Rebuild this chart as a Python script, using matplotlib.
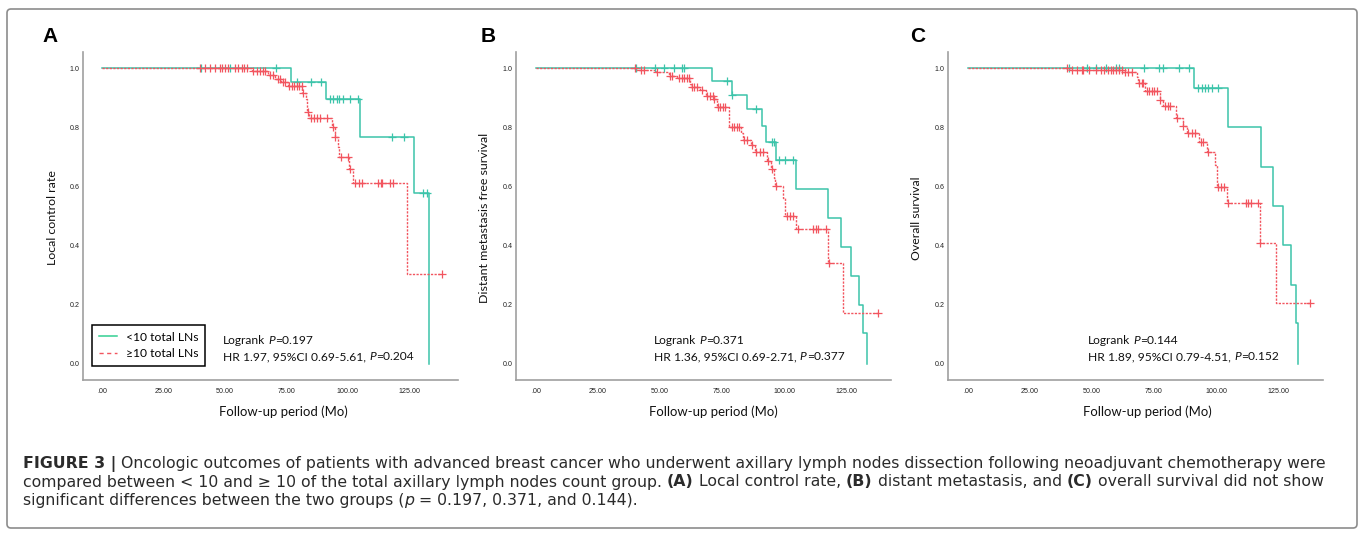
import numpy as np
import matplotlib
matplotlib.use("Agg")
import matplotlib.pyplot as plt
from matplotlib.lines import Line2D
from matplotlib.patches import FancyBboxPatch
from matplotlib.transforms import IdentityTransform
from matplotlib import font_manager

# ---------------- data ----------------
# Panel A : local control rate
a_lo_event_t = [77.0, 91.2, 105.0, 127.0, 133.3]
a_lo_event_s = [0.955, 0.895, 0.769, 0.577, 0.0]
a_lo_cens = [40.4, 52.0, 71.0, 79.3, 85.1, 89.1, 92.8, 94.2, 95.6, 96.6, 98.0,
             101.0, 104.1, 118.2, 122.9, 130.5, 132.2]
a_hi_event_t = [61.0, 67.7, 70.4, 72.8, 75.6, 81.6, 83.0, 83.6, 84.4, 93.8, 94.8,
                96.2, 96.6, 100.7, 102.1, 124.0]
a_hi_event_s = [0.993, 0.978, 0.963, 0.953, 0.941, 0.918, 0.898, 0.854, 0.833, 0.803,
                0.769, 0.735, 0.699, 0.658, 0.613, 0.305]
a_hi_cens = [39.8, 41.8, 43.8, 45.9, 47.9, 48.7, 50.1, 51.4, 54.2, 55.5, 56.9, 57.8,
             58.9, 61.6, 63.0, 64.3, 65.4, 66.4, 68.4, 69.8, 71.5, 72.5, 73.6, 74.5,
             76.3, 77.2, 78.2, 79.3, 80.2, 81.3, 82.0, 84.0, 85.3, 86.4, 87.7, 88.8,
             91.5, 94.0, 95.0, 97.2, 100.3, 101.0, 103.2, 104.6, 106.0, 112.3, 113.4,
             114.1, 117.3, 118.4, 138.3]

# Panel B : distant metastasis free survival
b_lo_event_t = [70.8, 78.9, 84.9, 91.3, 92.6, 96.9, 104.8, 117.9, 122.9, 126.9,
                130.1, 132.0, 133.3]
b_lo_event_s = [0.959, 0.910, 0.862, 0.806, 0.752, 0.690, 0.592, 0.492, 0.394,
                0.297, 0.198, 0.102, 0.0]
b_lo_cens = [40.3, 48.0, 51.6, 55.6, 58.9, 59.7, 76.9, 79.2, 88.9, 95.0, 95.9,
             97.9, 100.6, 103.5]
b_hi_event_t = [40.5, 48.5, 53.5, 57.0, 62.0, 62.5, 66.3, 68.5, 71.6, 72.8, 77.8,
                82.5, 83.5, 86.8, 88.3, 93.2, 94.8, 96.0, 96.5, 99.7, 100.3, 104.8,
                117.9, 123.7]
b_hi_event_s = [0.994, 0.988, 0.976, 0.967, 0.948, 0.936, 0.927, 0.908, 0.897, 0.871,
                0.800, 0.780, 0.758, 0.739, 0.716, 0.686, 0.661, 0.630, 0.602, 0.560,
                0.501, 0.456, 0.340, 0.172]
b_hi_cens = [40.0, 42.2, 43.5, 48.9, 54.0, 54.7, 57.8, 58.7, 59.8, 60.8, 61.7, 62.8,
             63.7, 65.0, 66.8, 69.1, 70.2, 71.3, 71.9, 73.3, 74.2, 75.3, 76.2, 78.9,
             79.8, 80.9, 81.9, 83.9, 85.0, 87.2, 88.9, 90.3, 91.7, 93.7, 95.0, 96.8,
             101.1, 102.4, 103.8, 105.5, 111.8, 112.9, 113.8, 116.9, 118.0, 138.0]

# Panel C : overall survival
c_lo_event_t = [91.1, 105.0, 118.0, 122.9, 126.9, 130.1, 132.1, 133.2]
c_lo_event_s = [0.935, 0.803, 0.667, 0.534, 0.402, 0.266, 0.136, 0.0]
c_lo_cens = [40.8, 47.9, 51.6, 55.6, 59.7, 61.0, 71.1, 77.0, 78.8, 85.1, 89.1,
             92.9, 94.2, 95.6, 96.9, 98.3, 100.9]
c_hi_event_t = [40.8, 62.5, 68.0, 68.5, 71.4, 77.4, 78.8, 83.7, 84.0, 86.5, 88.4,
                93.3, 96.2, 99.6, 100.3, 104.6, 117.7, 124.0]
c_hi_event_s = [0.995, 0.988, 0.970, 0.950, 0.925, 0.893, 0.873, 0.850, 0.831, 0.805,
                0.780, 0.752, 0.718, 0.673, 0.597, 0.545, 0.407, 0.204]
c_hi_cens = [40.1, 41.8, 43.9, 45.9, 46.5, 48.9, 51.6, 53.6, 54.8, 56.3, 57.5, 58.6,
             59.7, 60.9, 62.0, 63.3, 64.6, 66.0, 69.1, 70.0, 70.7, 72.0, 73.1, 74.1,
             75.0, 76.1, 77.6, 79.4, 80.5, 81.5, 84.1, 86.8, 88.8, 90.2, 91.5, 93.8,
             94.9, 96.6, 100.7, 102.0, 103.4, 104.9, 112.1, 113.0, 114.0, 117.1,
             117.9, 137.9]

panel_letters = ["A", "B", "C"]
y_labels = ["Local control rate", "Distant metastasis free survival", "Overall survival"]
x_label = "Follow-up period (Mo)"
x_ticks = [0, 25, 50, 75, 100, 125]
x_tick_labels = [".00", "25.00", "50.00", "75.00", "100.00", "125.00"]
y_ticks = [0.0, 0.2, 0.4, 0.6, 0.8, 1.0]
y_tick_labels = ["0.0", "0.2", "0.4", "0.6", "0.8", "1.0"]
legend_labels = ["<10 total LNs", "\u226510 total LNs"]
logrank_p = ["0.197", "0.371", "0.144"]
hr_text = ["HR 1.97, 95%CI 0.69-5.61, ", "HR 1.36, 95%CI 0.69-2.71, ",
           "HR 1.89, 95%CI 0.79-4.51, "]
hr_p = ["0.204", "0.377", "0.152"]

panels = [
    (a_lo_event_t, a_lo_event_s, a_lo_cens, a_hi_event_t, a_hi_event_s, a_hi_cens),
    (b_lo_event_t, b_lo_event_s, b_lo_cens, b_hi_event_t, b_hi_event_s, b_hi_cens),
    (c_lo_event_t, c_lo_event_s, c_lo_cens, c_hi_event_t, c_hi_event_s, c_hi_cens),
]

# ---------------- style / layout ----------------
W, H = 1360, 533
GREEN = "#3cc4aa"
GREEN_LEG = "#33cf92"
RED = "#f2555f"
SPINE = "#a0a0a0"

avail = {f.name for f in font_manager.fontManager.ttflist}
LABEL_FONT = "Lato" if "Lato" in avail else "DejaVu Sans"
TICK_FONT = "Liberation Sans" if "Liberation Sans" in avail else "DejaVu Sans"
CAP_FONT = "DejaVu Sans"

fig = plt.figure(figsize=(W / 100, H / 100), dpi=100)
renderer = fig.canvas.get_renderer()


def fx(x):
    return x / W


def fy(y):
    return 1 - y / H


def measure(s, **kw):
    t = fig.text(0, 0, s, **kw)
    w = t.get_window_extent(renderer).width
    t.remove()
    return w


def fit_size(s, target, base=10, **kw):
    return base * target / measure(s, fontsize=base, **kw)


def run_text(x, y, parts, size, family, color, va="baseline"):
    """parts: list of (text, weight, style); spaces at run edges are handled."""
    sp = measure("a a", fontsize=size, family=family) - measure("aa", fontsize=size, family=family)
    for txt, weight, style in parts:
        lead = len(txt) - len(txt.lstrip(" "))
        trail = len(txt) - len(txt.rstrip(" "))
        core = txt.strip(" ")
        x += lead * sp
        if core:
            t = fig.text(fx(x), fy(y), core, fontsize=size, family=family, weight=weight,
                         style=style, color=color, ha="left", va=va)
            x += t.get_window_extent(renderer).width
        x += trail * sp
    return x


def km_curve(ax, et, es, cens, color, ls, lw):
    times = np.concatenate([[0.0], np.asarray(et, float)])
    survs = np.concatenate([[1.0], np.asarray(es, float)])
    cens = np.asarray(cens, float)
    if cens.size and cens.max() > times[-1] and survs[-1] > 0:
        times = np.append(times, cens.max())
        survs = np.append(survs, survs[-1])
    ax.step(times, survs, where="post", color=color, lw=lw, ls=ls, zorder=3)
    idx = np.searchsorted(times, cens, side="right") - 1
    ax.plot(cens, survs[idx], ls="none", marker="+", ms=5.5, mew=0.9,
            color=color, zorder=4)


spine_left = [83, 516, 948]
zero_px = [102, 536, 968]
scale_px = [307 / 125, 310 / 125, 310 / 125]
ax_w = 375
ax_top, ax_bot = 52, 380
y0_px, y1_px = 363.5, 68.5

tick_size = fit_size("125.00", 22, family=TICK_FONT)
xl_size = fit_size(x_label, 130, family=LABEL_FONT)
yl_widths = [95, 170, 83]
hr_size = fit_size("HR 1.97, 95%CI 0.69-5.61, P=0.204", 190, family=LABEL_FONT)
leg_size = fit_size(legend_labels[0], 72, family=LABEL_FONT)

ylab_x = [53, 485, 916]
xlab_cx = [283, 713, 1147]
letter_x = [42, 481, 910]
lr_x = [223, 654, 1088]

for i, (lo_t, lo_s, lo_c, hi_t, hi_s, hi_c) in enumerate(panels):
    L = spine_left[i]
    ax = fig.add_axes([fx(L), fy(ax_bot), ax_w / W, (ax_bot - ax_top) / H])
    s = scale_px[i]
    ax.set_xlim((L - zero_px[i]) / s, (L + ax_w - zero_px[i]) / s)
    yscale = y0_px - y1_px
    ax.set_ylim(-(ax_bot - y0_px) / yscale, 1 + (y1_px - ax_top) / yscale)

    km_curve(ax, lo_t, lo_s, lo_c, GREEN, "-", 1.1)
    km_curve(ax, hi_t, hi_s, hi_c, RED, (0, (1.6, 1.0)), 1.0)

    for sp_name in ["top", "right"]:
        ax.spines[sp_name].set_visible(False)
    for sp_name in ["left", "bottom"]:
        ax.spines[sp_name].set_color(SPINE)
        ax.spines[sp_name].set_linewidth(1.2)
    ax.set_xticks(x_ticks)
    ax.set_xticklabels(x_tick_labels)
    ax.set_yticks(y_ticks)
    ax.set_yticklabels(y_tick_labels)
    ax.tick_params(length=0, labelsize=tick_size, colors="#222222")
    ax.tick_params(axis="x", pad=5.5)
    ax.tick_params(axis="y", pad=2.5)
    for lab in ax.get_xticklabels() + ax.get_yticklabels():
        lab.set_family(TICK_FONT)
    ax.set_facecolor("none")

    # panel letter
    fig.text(fx(letter_x[i]), fy(36), panel_letters[i], fontsize=15, weight="bold",
             family=TICK_FONT, ha="left", va="center", color="black")
    # axis labels
    fig.text(fx(xlab_cx[i]), fy(412), x_label, fontsize=xl_size, family=LABEL_FONT,
             ha="center", va="center", color="#111111")
    yls = fit_size(y_labels[i], yl_widths[i], family=LABEL_FONT)
    fig.text(fx(ylab_x[i]), fy(218), y_labels[i], fontsize=yls, family=LABEL_FONT,
             rotation=90, ha="center", va="center", color="#111111")
    # logrank annotations
    run_text(lr_x[i], 344, [("Logrank ", "normal", "normal"), ("P", "normal", "italic"),
                            ("=" + logrank_p[i], "normal", "normal")],
             hr_size, LABEL_FONT, "#111111")
    run_text(lr_x[i], 360, [(hr_text[i], "normal", "normal"), ("P", "normal", "italic"),
                            ("=" + hr_p[i], "normal", "normal")],
             hr_size, LABEL_FONT, "#111111")

    if i == 0:
        handles = [Line2D([], [], color=GREEN_LEG, lw=1.1),
                   Line2D([], [], color=RED, lw=1.0, ls=(0, (3, 2.5)))]
        leg = ax.legend(handles, legend_labels, loc="upper left",
                        bbox_to_anchor=(fx(92), fy(325)), bbox_transform=fig.transFigure,
                        prop={"family": LABEL_FONT, "size": leg_size}, frameon=True,
                        fancybox=False, edgecolor="black", framealpha=1,
                        handlelength=1.55, handletextpad=0.7, labelspacing=0.45,
                        borderpad=0.55, borderaxespad=0)
        leg.get_frame().set_linewidth(1.1)

# border around the panels + caption
border = FancyBboxPatch((7, H - 528), 1350, 519,
                        boxstyle="round,pad=0,rounding_size=4",
                        transform=IdentityTransform(), facecolor="none",
                        edgecolor="#8c8c8c", lw=1.2, zorder=0)
fig.patches.append(border)

# caption
cap1 = [("FIGURE 3 |", "bold", "normal"),
        (" Oncologic outcomes of patients with advanced breast cancer who underwent axillary "
         "lymph nodes dissection following neoadjuvant chemotherapy were", "normal", "normal")]
cap2 = [("compared between < 10 and \u2265 10 of the total axillary lymph nodes count group. ",
         "normal", "normal"), ("(A)", "bold", "normal"),
        (" Local control rate, ", "normal", "normal"), ("(B)", "bold", "normal"),
        (" distant metastasis, and ", "normal", "normal"), ("(C)", "bold", "normal"),
        (" overall survival did not show", "normal", "normal")]
cap3 = [("significant differences between the two groups (", "normal", "normal"),
        ("p", "normal", "italic"),
        (" = 0.197, 0.371, and 0.144).", "normal", "normal")]

base = 10
n_before = len(fig.texts)
end = run_text(0, -100, cap1, base, CAP_FONT, "#ffffff")
cap_size = base * 1307 / end
for t in list(fig.texts[n_before:]):
    t.remove()
run_text(23, 468, cap1, cap_size, CAP_FONT, "#2b2b2b")
run_text(23, 486.5, cap2, cap_size, CAP_FONT, "#2b2b2b")
run_text(23, 504.5, cap3, cap_size, CAP_FONT, "#2b2b2b")

fig.savefig("out.png", dpi=100)
